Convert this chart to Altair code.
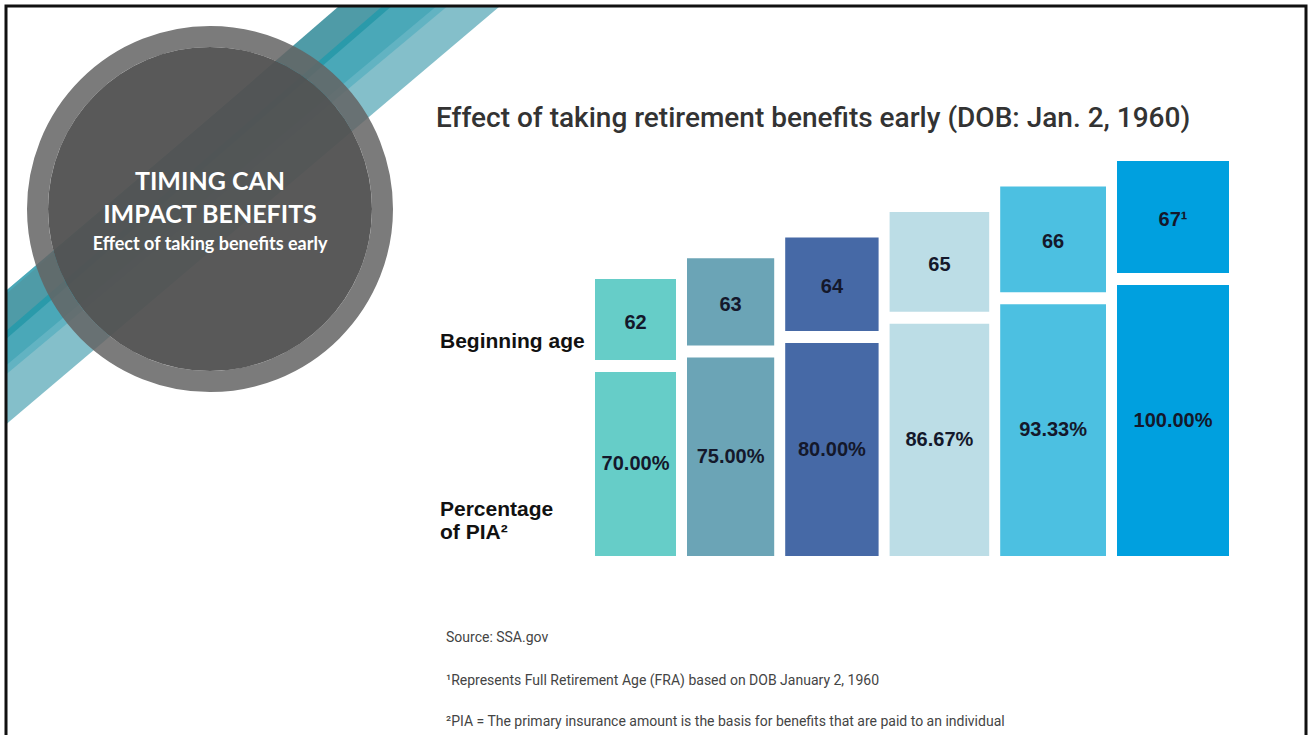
import altair as alt
import pandas as pd

# ---------------- data ----------------
ages = ["62", "63", "64", "65", "66", "67¹"]
pcts = [70.00, 75.00, 80.00, 86.67, 93.33, 100.00]
bar_colors = ["#66cdc8", "#6ba4b6", "#4669a6", "#bcdde6", "#4cc0e1", "#00a0df"]

title_text = "Effect of taking retirement benefits early (DOB: Jan. 2, 1960)"
row_label_age = "Beginning age"
row_label_pct = ["Percentage", "of PIA²"]
circle_lines = ["TIMING CAN", "IMPACT BENEFITS"]
circle_sub = "Effect of taking benefits early"
footnotes = [
    "Source: SSA.gov",
    "¹Represents Full Retirement Age (FRA) based on DOB January 2, 1960",
    "²PIA = The primary insurance amount is the basis for benefits that are paid to an individual",
]

# ---------------- layout ----------------
W, H = 1312, 735
X0, BW0, BW_STEP, GAP = 595, 81.0, 6.2, 11.0
PX_PER_UNIT = 2.9            # pixels per percentage point
ZERO_PX = 575                # pixel where 0 % would sit
BASE_PX = 556                # bottom of the bars
VGAP_PX = 12                 # gap between age box and percentage bar

rows = []
x = X0
for i, (a, p, c) in enumerate(zip(ages, pcts, bar_colors)):
    w = BW0 + BW_STEP * i
    base = (ZERO_PX - BASE_PX) / PX_PER_UNIT
    bb = p + VGAP_PX / PX_PER_UNIT
    bt = bb + w / PX_PER_UNIT
    rows.append(dict(age=a, pct=p, color=c, x1=x, x2=x + w, xm=x + w / 2,
                     base=base, pmid=(p + base) / 2, bb=bb, bt=bt, bmid=(bb + bt) / 2,
                     plabel=f"{p:.2f}%"))
    x += w + GAP
df = pd.DataFrame(rows)

xs = alt.Scale(domain=[0, W], range=[0, W], nice=False, zero=False)
ys = alt.Scale(domain=[0, 100], range=[ZERO_PX, ZERO_PX - 100 * PX_PER_UNIT], nice=False, zero=False)
X = lambda f: alt.X(f, type="quantitative", scale=xs, axis=None)
Y = lambda f: alt.Y(f, type="quantitative", scale=ys, axis=None)

one = pd.DataFrame({"k": [0]})
layers = []

# ---------------- decorative stripes ----------------
stripes = [  # (top centre x at y=7, left centre y at x=6, width, colour)
    (420, 357.5, 102, "#84bfca"),
    (389, 331.5, 62, "#4aa8b8"),
    (441, 370, 7, "#62b3c2"),
    (362, 315, 31.5, "#4f9ba7"),
    (386, 335, 6, "#2a9aaa"),
]
for ct, cl, sw, col in stripes:
    dx, dy = 6 - ct, cl - 7
    t0, t1 = -0.3, 1.3
    layers.append(
        alt.Chart(one).mark_rule(strokeWidth=sw, color=col, strokeCap="butt").encode(
            x=alt.value(ct + t0 * dx), y=alt.value(7 + t0 * dy),
            x2=alt.value(ct + t1 * dx), y2=alt.value(7 + t1 * dy))
    )
# white outside the slide frame
layers.append(alt.Chart(one).mark_rect(color="white").encode(
    x=alt.value(0), x2=alt.value(5), y=alt.value(0), y2=alt.value(H)))
layers.append(alt.Chart(one).mark_rect(color="white").encode(
    x=alt.value(0), x2=alt.value(W), y=alt.value(0), y2=alt.value(5)))
# slide frame
layers.append(alt.Chart(one).mark_rect(fillOpacity=0, stroke="#111111", strokeWidth=3).encode(
    x=alt.value(6), x2=alt.value(1306), y=alt.value(6), y2=alt.value(H + 20)))

# ---------------- circle ----------------
CX, CY = 210, 209
layers.append(alt.Chart(one).mark_point(shape="circle", filled=False, size=345 ** 2,
                                        color="#646464", opacity=0.85, strokeWidth=21).encode(
    x=alt.value(CX), y=alt.value(CY)))
layers.append(alt.Chart(one).mark_point(shape="circle", filled=True, size=324 ** 2,
                                        color="#525252", opacity=0.96, strokeWidth=0).encode(
    x=alt.value(CX), y=alt.value(CY)))
for txt, yy, fs in [(circle_lines[0], 182, 25), (circle_lines[1], 215, 25), (circle_sub, 245, 18)]:
    layers.append(alt.Chart(one).mark_text(text=txt, font="Lato", fontWeight="bold", fontSize=fs,
                                           color="white", align="center", baseline="middle").encode(
        x=alt.value(CX), y=alt.value(yy)))

# ---------------- title and row labels ----------------
layers.append(alt.Chart(one).mark_text(text=title_text, font="Roboto", fontWeight=500, fontSize=28,
                                       color="#333333", align="left", baseline="middle").encode(
    x=alt.value(436), y=alt.value(119)))
layers.append(alt.Chart(one).mark_text(text=row_label_age, font="Liberation Sans", fontWeight="bold",
                                       fontSize=21, color="#111111", align="left", baseline="middle").encode(
    x=alt.value(440), y=alt.value(342)))
for txt, yy in zip(row_label_pct, [510, 533]):
    layers.append(alt.Chart(one).mark_text(text=txt, font="Liberation Sans", fontWeight="bold",
                                           fontSize=21, color="#111111", align="left", baseline="middle").encode(
        x=alt.value(440), y=alt.value(yy)))

# ---------------- bars ----------------
color_enc = alt.Color("age:N", scale=alt.Scale(domain=ages, range=bar_colors), legend=None)
base = alt.Chart(df)
layers.append(base.mark_rect().encode(x=X("x1"), x2="x2", y=Y("pct"), y2="base", color=color_enc))
layers.append(base.mark_rect().encode(x=X("x1"), x2="x2", y=Y("bt"), y2="bb", color=color_enc))
layers.append(base.mark_text(font="Liberation Sans", fontWeight="bold", fontSize=20, color="#14182b",
                             baseline="middle", dy=3).encode(x=X("xm"), y=Y("bmid"), text="age:N"))
layers.append(base.mark_text(font="Liberation Sans", fontWeight="bold", fontSize=20, color="#14182b",
                             baseline="middle").encode(x=X("xm"), y=Y("pmid"), text="plabel:N"))

# ---------------- footnotes ----------------
for txt, yy in zip(footnotes, [638, 681, 722]):
    layers.append(alt.Chart(one).mark_text(text=txt, font="Roboto", fontSize=14, color="#444444",
                                           align="left", baseline="middle").encode(
        x=alt.value(446), y=alt.value(yy)))

chart = alt.layer(*layers).properties(
    width=W, height=H, autosize=alt.AutoSizeParams(type="none"), padding=0,
    background="white",
).configure_view(stroke=None)

chart.save("out.html", embed_options={"renderer": "svg", "actions": False})
